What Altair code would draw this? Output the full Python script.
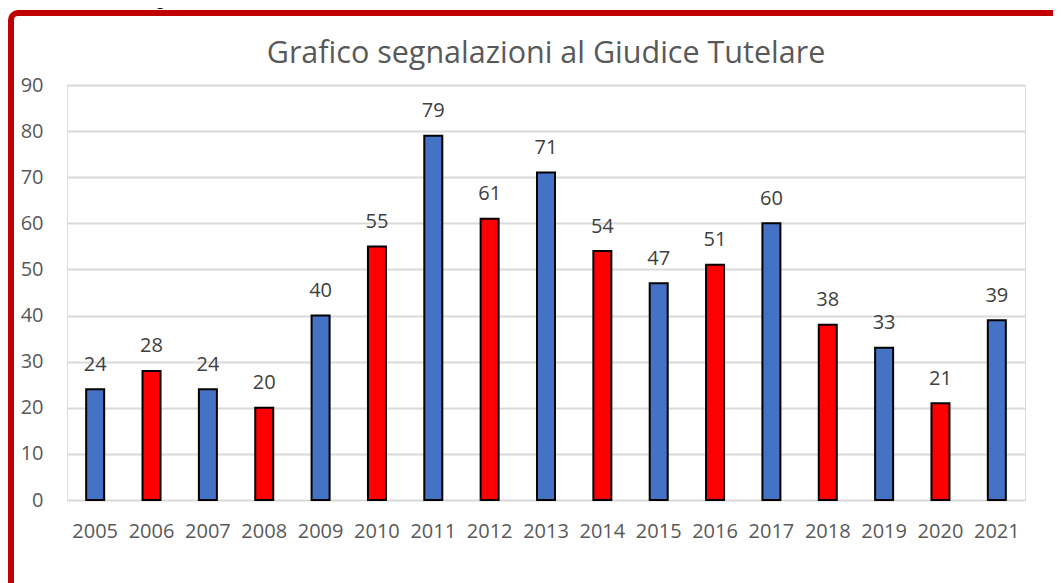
import altair as alt
import pandas as pd

years = [str(y) for y in range(2005, 2022)]
values = [24, 28, 24, 20, 40, 55, 79, 61, 71, 54, 47, 51, 60, 38, 33, 21, 39]
groups = ["blu", "rosso", "blu", "rosso", "blu", "rosso", "blu", "rosso", "blu",
          "rosso", "blu", "rosso", "blu", "rosso", "blu", "rosso", "blu"]
y_ticks = [0, 10, 20, 30, 40, 50, 60, 70, 80, 90]
chart_title = "Grafico segnalazioni al Giudice Tutelare"
caption = "Grafico n° 5 - Segnalazioni del Servizio Sociale dal 2005 al 2021"

df = pd.DataFrame({"anno": years, "valore": values, "gruppo": groups})

PW, PH = 958, 415

x_enc = alt.X(
    "anno:N", sort=years,
    scale=alt.Scale(paddingInner=0, paddingOuter=0),
    axis=alt.Axis(title=None, labelAngle=0, labelFont="Open Sans", labelFontSize=20,
                  labelColor="#595959", ticks=False, domain=False, labelPadding=21,
                  grid=False),
)
y_enc = alt.Y(
    "valore:Q",
    scale=alt.Scale(domain=[0, 90], nice=False),
    axis=alt.Axis(title=None, values=y_ticks, ticks=False, domain=False,
                  labelFont="Open Sans", labelFontSize=20, labelColor="#595959",
                  labelPadding=24, gridColor="#D9D9D9", gridWidth=2),
)

bars = alt.Chart(df).mark_bar(size=18, stroke="#000000", strokeWidth=2).encode(
    x=x_enc, y=y_enc,
    color=alt.Color("gruppo:N", scale=alt.Scale(domain=["blu", "rosso"],
                                                range=["#4472C4", "#FF0000"]),
                    legend=None),
)

labels = alt.Chart(df).mark_text(
    dy=-18.5, baseline="alphabetic", font="Open Sans", fontSize=20, color="#404040"
).encode(x=alt.X("anno:N", sort=years), y=alt.Y("valore:Q"), text="valore:Q")

title_df = pd.DataFrame({"t": [chart_title]})
title = alt.Chart(title_df).mark_text(
    font="Open Sans", fontSize=30.5, color="#595959", baseline="alphabetic", align="center"
).encode(x=alt.value(PW / 2), y=alt.value(-22), text="t:N")

cap_df = pd.DataFrame({"t": [caption]})
cap = alt.Chart(cap_df).mark_text(
    font="Liberation Sans", fontSize=20, fontStyle="italic", color="#000000",
    baseline="alphabetic", align="left"
).encode(x=alt.value(-59), y=alt.value(-80), text="t:N")

frame_df = pd.DataFrame({"f": [1]})
frame = alt.Chart(frame_df).mark_rect(
    fill=None, fillOpacity=0, stroke="#C00000", strokeWidth=6, cornerRadius=7
).encode(x=alt.value(-56), x2=alt.value(1100), y=alt.value(-72), y2=alt.value(600))

chart = alt.layer(frame, bars, labels, title, cap).properties(
    width=PW, height=PH,
    autosize=alt.AutoSizeParams(type="none"),
    padding={"left": 59, "top": 77, "right": 36, "bottom": 83},
).configure_view(stroke=None).configure(background="white")

chart.save("out.html", embed_options={
    "renderer": "svg", "actions": False,
    "defaultStyle": "svg.marks { overflow: visible; } body { overflow: hidden; }",
})
